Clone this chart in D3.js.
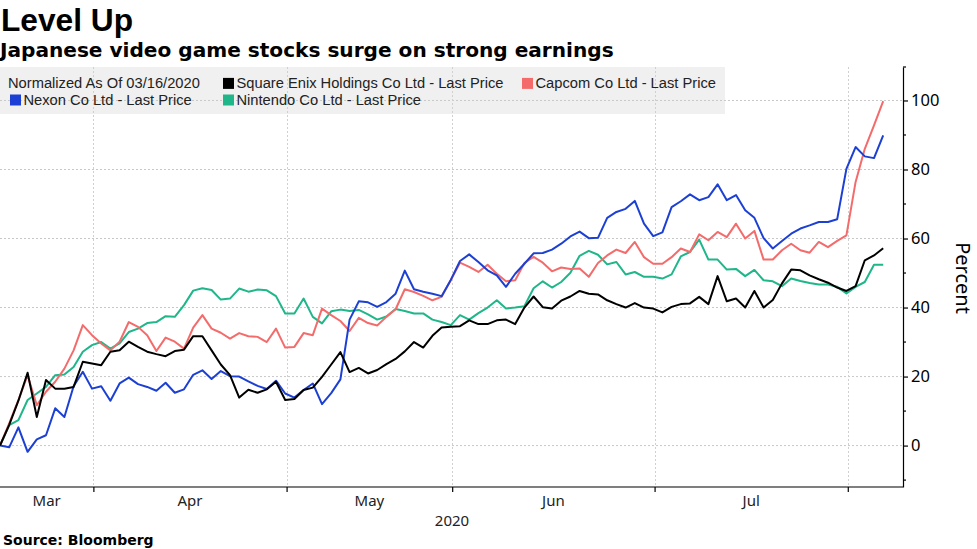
<!DOCTYPE html>
<html>
<head>
<meta charset="utf-8">
<script src="https://cdn.jsdelivr.net/npm/d3@7"></script>
<style>
  html, body { margin: 0; padding: 0; background: #ffffff; }
  svg { display: block; }
</style>
</head>
<body>
<svg id="chart" width="977" height="549"></svg>
<script>
// ---------------- DATA ----------------
const title = "Level Up";
const subtitle = "Japanese video game stocks surge on strong earnings";
const source = "Source: Bloomberg";
const yAxisTitle = "Percent";
const legendNote = "Normalized As Of 03/16/2020";

const seriesNames = [
  "Square Enix Holdings Co Ltd - Last Price",
  "Capcom Co Ltd - Last Price",
  "Nexon Co Ltd - Last Price",
  "Nintendo Co Ltd - Last Price"
];

// trading-day series, index 0 = 03/16/2020
const squareEnix = [0,6,13,21.1,8.3,19.0,16.5,16.5,17.0,24.3,23.8,23.3,27.2,27.6,30.1,28.6,27.2,26.5,25.9,27.4,
  27.8,31.7,31.7,27.6,23.5,20.4,13.9,16.2,15.3,16.3,18.5,13.2,13.5,16.1,16.8,19.9,23.5,27.1,21.3,22.5,
  20.9,21.9,23.6,25.1,27.3,30.0,28.4,31.8,34.2,34.4,34.6,36.3,35.2,35.2,36.3,36.5,35.2,40.0,43.2,40.1,
  39.7,42.0,43.2,44.8,44.0,43.8,42.1,41.0,40.0,41.3,40.0,39.7,38.6,40.2,41.0,41.2,43.1,41.0,49.1,41.8,
  42.6,40.0,44.8,40.0,42.2,47.0,51.0,50.8,49.3,48.2,47.2,45.8,44.8,46.2,53.7,55.1,57.2];
const capcom = [0,6.4,13.2,20.4,11.7,15.6,18.5,22.3,27.6,34.9,32.0,29.6,27.6,30.1,35.8,34.4,32.0,27.4,31.3,30.1,
  28.1,34.2,37.8,33.9,32.7,31.0,32.6,31.7,31.5,30.0,33.9,28.4,28.6,32.6,32.0,39.7,37.8,36.1,33.2,37.0,
  35.5,34.8,37.3,39.5,45.3,44.5,43.4,42.1,43.1,48.0,53.0,51.8,50.3,52.4,49.8,47.6,47.9,52.9,54.7,53.0,
  50.5,51.6,51.2,51.3,48.9,52.9,55.1,56.8,55.8,59.0,54.6,52.7,52.7,54.6,57.1,56.1,61.2,59.5,61.9,60.4,
  64.3,60.0,62.2,53.9,53.9,56.6,58.5,56.6,55.9,59.0,57.5,59.3,60.9,76.4,86.0,92.8,99.8];
const nexon = [0,-0.5,5.3,-1.8,1.8,3.0,10.8,8.3,17.2,21.4,16.5,17.2,13.0,18.0,19.7,17.8,17.0,15.9,18.2,15.3,
  16.3,20.5,21.8,19.3,21.6,20.1,20.0,18.6,17.3,16.4,18.8,15.1,13.9,16.1,18.0,12.0,15.2,19.2,36.5,41.8,
  41.5,40.2,41.6,44.0,50.7,45.3,44.6,44.0,43.3,48.0,53.5,55.4,53.2,50.8,49.3,46.0,49.8,52.7,55.7,55.8,
  56.8,58.5,60.6,62.0,60.1,60.2,66.0,67.7,68.6,70.9,64.3,60.7,61.8,69.1,70.8,72.8,71.1,72.0,75.7,71.1,
  72.6,68.2,66.0,60.1,57.1,59.3,61.4,62.9,63.8,64.8,64.8,65.6,80.2,86.5,83.8,83.3,89.9];
const nintendo = [0,5.9,7.4,13.2,15.1,17.0,20.4,20.6,22.8,27.2,29.1,30.0,28.1,29.6,32.9,33.9,35.5,35.8,37.5,37.3,
  40.7,44.9,45.6,45.1,42.3,42.6,45.5,44.6,45.2,45.0,43.3,38.3,38.3,42.6,37.3,35.4,38.9,39.4,39.0,39.3,
  38.0,36.5,37.4,39.6,39.0,38.3,38.3,36.5,35.8,34.9,37.8,36.5,38.4,40.0,42.1,39.7,40.0,40.4,45.6,47.6,
  45.8,47.4,50.1,55.0,56.4,55.3,52.5,53.2,49.6,50.3,48.9,48.9,48.4,49.6,54.8,56.1,59.7,53.9,53.9,51.0,
  51.2,49.1,50.9,47.9,47.6,46.2,48.4,47.7,47.1,46.7,46.7,46.0,44.1,46.0,47.4,52.4,52.4];

const seriesColors = ["#000000", "#f46b6b", "#1c40d4", "#1fb68a"];

// month boundaries (in trading-day index units) and labels
const monthTicks = [10.15, 31.15, 49.15, 71.15, 92.15];
const monthLabels = ["Mar", "Apr", "May", "Jun", "Jul"];
const yearLabel = "2020";

const yMajorTicks = [0, 20, 40, 60, 80, 100];
const yMinorTicks = [-10, 10, 30, 50, 70, 90];
const yDomain = [-12, 109.7];

// ---------------- LAYOUT ----------------
const svg = d3.select("#chart");
const plot = { left: 0, right: 903, top: 67, bottom: 487 };
const nPts = squareEnix.length;

const x = d3.scaleLinear().domain([0, nPts - 1]).range([0, 883.2]);
const y = d3.scaleLinear().domain(yDomain).range([plot.bottom, plot.top]);

const allSeries = [squareEnix, capcom, nexon, nintendo];

// Titles
svg.append("text").attr("x", 1).attr("y", 31)
  .attr("font-family", "'Liberation Sans', Arial, sans-serif")
  .attr("font-weight", "bold").attr("font-size", 31.7).attr("fill", "#000")
  .text(title);
svg.append("text").attr("x", 0).attr("y", 56.5)
  .attr("font-family", "'DejaVu Sans', sans-serif")
  .attr("font-weight", "bold").attr("font-size", 20.1).attr("fill", "#000")
  .text(subtitle);

// Legend background
svg.append("rect").attr("x", 0).attr("y", 67).attr("width", 725).attr("height", 47)
  .attr("fill", "#f0f0f0");

// Grid lines
const grid = svg.append("g");
grid.selectAll("line.h").data(yMajorTicks).enter().append("line")
  .attr("x1", plot.left).attr("x2", plot.right)
  .attr("y1", d => y(d)).attr("y2", d => y(d))
  .attr("stroke", "#c8c8c8").attr("stroke-width", 1).attr("stroke-dasharray", "2,2");
grid.selectAll("line.v").data(monthTicks).enter().append("line")
  .attr("x1", d => Math.round(x(d)) + 0.5).attr("x2", d => Math.round(x(d)) + 0.5)
  .attr("y1", plot.top).attr("y2", plot.bottom)
  .attr("stroke", "#d0d0d0").attr("stroke-width", 1).attr("stroke-dasharray", "2,2");

// Legend content
const legFont = "'Liberation Sans', Arial, sans-serif";
const legSize = 14.7;
const legItems = [
  { name: seriesNames[0], color: seriesColors[0], x: 223, row: 0 },
  { name: seriesNames[1], color: seriesColors[1], x: 522, row: 0 },
  { name: seriesNames[2], color: seriesColors[2], x: 10, row: 1 },
  { name: seriesNames[3], color: seriesColors[3], x: 223, row: 1 }
];
const rowBase = [88.4, 105];
svg.append("text").attr("x", 8).attr("y", rowBase[0])
  .attr("font-family", legFont).attr("font-size", legSize).attr("fill", "#222")
  .text(legendNote);
legItems.forEach(it => {
  svg.append("rect").attr("x", it.x).attr("y", rowBase[it.row] - 10.5)
    .attr("width", 11).attr("height", 11).attr("fill", it.color);
  svg.append("text").attr("x", it.x + 13.5).attr("y", rowBase[it.row])
    .attr("font-family", legFont).attr("font-size", legSize).attr("fill", "#222")
    .text(it.name);
});

// Lines
const line = d3.line().x((d, i) => x(i)).y(d => y(d));
const drawOrder = [3, 1, 2, 0];
drawOrder.forEach(k => {
  svg.append("path").datum(allSeries[k])
    .attr("d", line).attr("fill", "none")
    .attr("stroke", seriesColors[k]).attr("stroke-width", 2)
    .attr("stroke-linejoin", "round");
});

// Right axis
const yAxis = d3.axisRight(y).tickValues(yMajorTicks).tickSize(5).tickSizeOuter(0).tickPadding(3);
const gy = svg.append("g").attr("transform", `translate(${plot.right},0)`).call(yAxis);
gy.select(".domain").attr("stroke", "#000").attr("stroke-width", 1.2);
gy.selectAll(".tick line").attr("stroke", "#000").attr("stroke-width", 1.2);
gy.selectAll(".tick text").attr("font-family", "'Noto Sans', sans-serif")
  .attr("font-size", 16.5).attr("fill", "#000");
svg.append("g").attr("transform", `translate(${plot.right},0)`)
  .selectAll("line").data(yMinorTicks.concat([yDomain[1]])).enter().append("line")
  .attr("x1", 0).attr("x2", 3).attr("y1", d => y(d)).attr("y2", d => y(d))
  .attr("stroke", "#000").attr("stroke-width", 1.2);

svg.append("text")
  .attr("transform", `translate(956,${(plot.top + plot.bottom) / 2 + 1}) rotate(90)`)
  .attr("text-anchor", "middle")
  .attr("font-family", "'Noto Sans', sans-serif").attr("font-size", 20).attr("fill", "#000")
  .text(yAxisTitle);

// Bottom axis
const xAxis = d3.axisBottom(x).tickValues(monthTicks).tickSize(5).tickSizeOuter(0).tickFormat("");
const gx = svg.append("g").attr("transform", `translate(0,${plot.bottom})`).call(xAxis);
gx.select(".domain").attr("stroke", "#000").attr("stroke-width", 1.2)
  .attr("d", `M0,0H${plot.right}`);
gx.selectAll(".tick line").attr("stroke", "#000").attr("stroke-width", 1.2);

const bounds = [0].concat(monthTicks);
svg.append("g").selectAll("text").data(monthLabels).enter().append("text")
  .attr("x", (d, i) => (x(bounds[i]) + x(bounds[i + 1])) / 2)
  .attr("y", 506)
  .attr("text-anchor", "middle")
  .attr("font-family", "'Noto Sans', sans-serif").attr("font-size", 15).attr("fill", "#222")
  .text(d => d);
svg.append("text").attr("x", 452).attr("y", 526).attr("text-anchor", "middle")
  .attr("font-family", "'Noto Sans', sans-serif").attr("font-size", 15).attr("fill", "#222")
  .text(yearLabel);

// Source
svg.append("text").attr("x", 3).attr("y", 545)
  .attr("font-family", "'DejaVu Sans', sans-serif").attr("font-weight", "bold")
  .attr("font-size", 14).attr("fill", "#000")
  .text(source);
</script>
</body>
</html>
